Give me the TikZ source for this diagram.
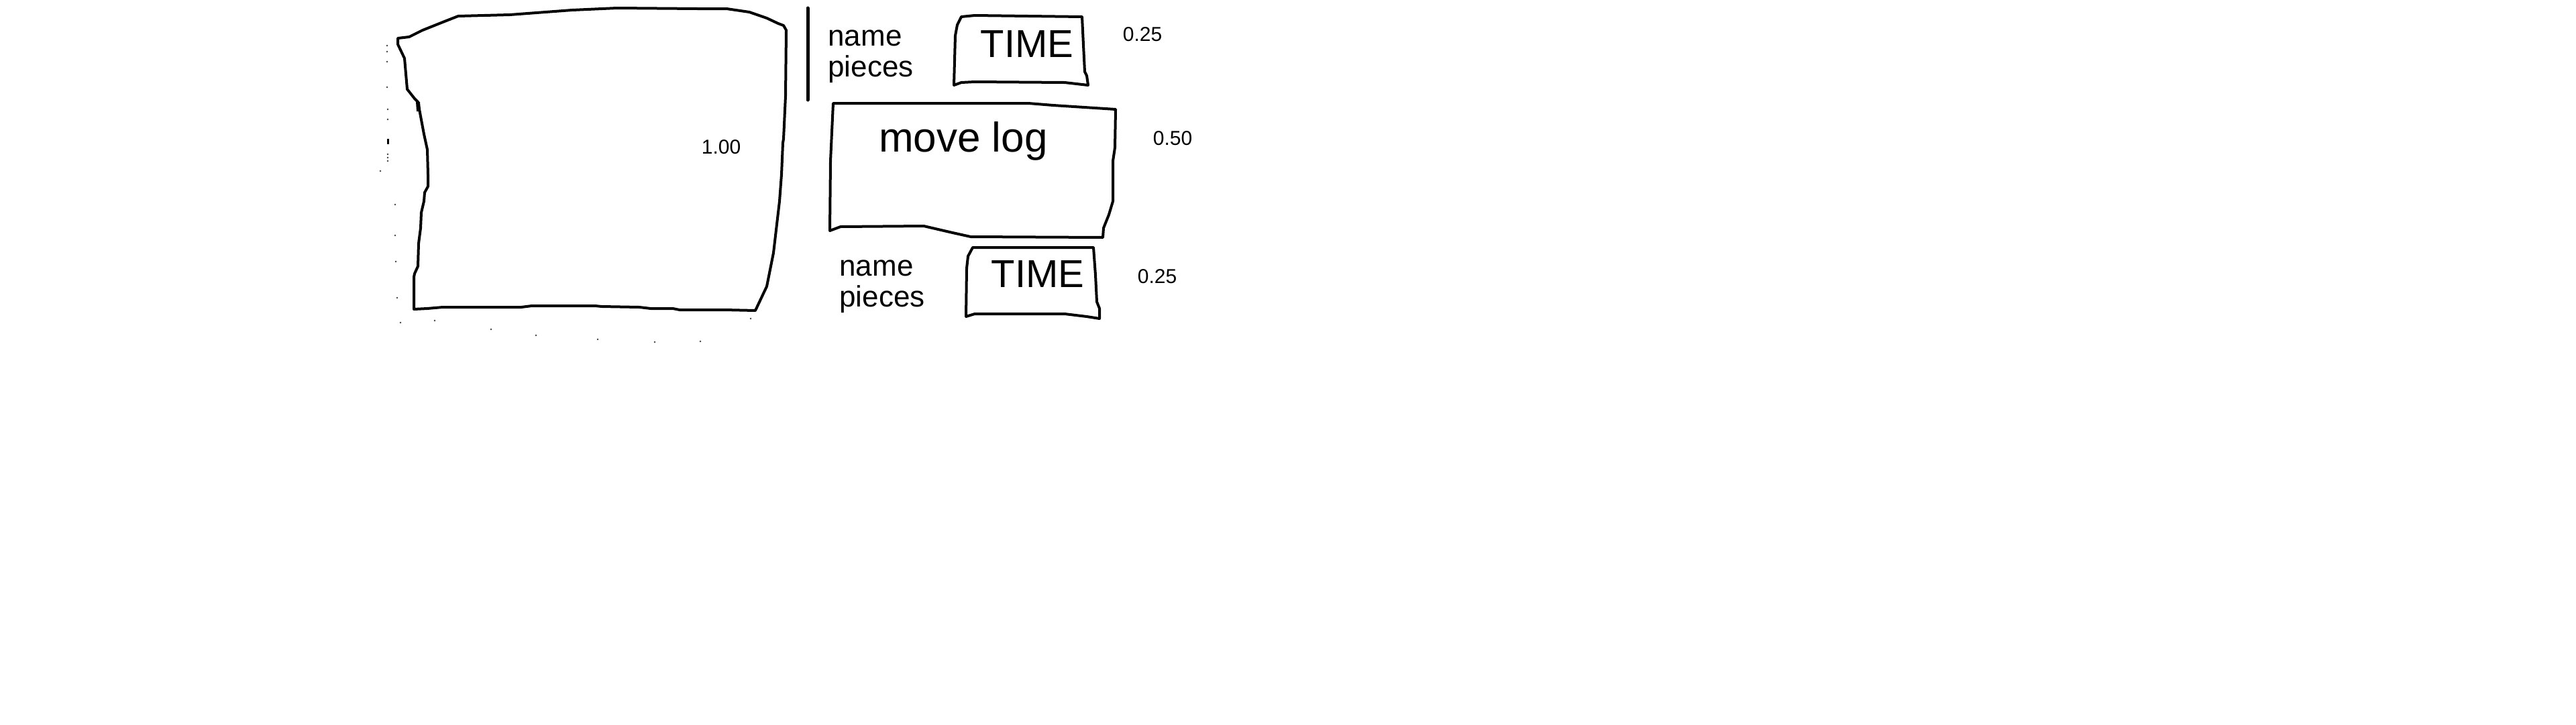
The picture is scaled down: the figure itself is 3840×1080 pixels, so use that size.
\documentclass[tikz,border=0pt]{standalone}
\usepackage{fontspec}
\setmainfont{Liberation Sans}
\begin{document}
\begin{tikzpicture}[x=1pt,y=-1pt,
  sketch/.style={draw=black,line width=4pt,line join=round,line cap=round},
  num/.style={font=\fontsize{30}{36}\selectfont,inner sep=0pt},
  hand/.style={font=\fontsize{44}{46}\selectfont,inner sep=0pt,align=left},
  bigt/.style={font=\fontsize{58}{60}\selectfont,inner sep=0pt},
  speck/.style={fill=black!75}]
\useasboundingbox (0,0) rectangle (3840,1080);
\fill[white] (0,0) rectangle (3840,1080);

% board (1.00)
\draw[sketch] (593,57) -- (610,55) -- (630,45) -- (660,33) -- (683,24) -- (760,22) -- (853,15) -- (920,12) -- (1040,13) -- (1083,13) -- (1117,18) -- (1143,27) -- (1160,35) -- (1168,38) -- (1172,45) -- (1171,143) -- (1168,207) -- (1167,213) -- (1165,260) -- (1162,300) -- (1153,377) -- (1143,427) -- (1126,463) -- (1080,462) -- (1013,462) -- (1003,460) -- (970,460) -- (953,458) -- (897,457) -- (887,456) -- (793,456) -- (777,458) -- (660,458) -- (637,460) -- (617,461) -- (617,413) -- (618,408) -- (623,397) -- (624,363) -- (627,340) -- (628,317) -- (632,300) -- (633,287) -- (638,278) -- (638,260) -- (637,223) -- (632,200) -- (623,152) -- (618,147) -- (607,133) -- (603,87) -- (593,66) -- cycle;
\draw[line width=6pt] (623,152) -- (624,166);

% specks around the board
\foreach \p in {(577,68),(577,77),(577,92),(577,130),(578,163),(578,178),(578,230),(578,235),(578,240),(567,255),(589,305),(589,351),(590,390),(592,444),(597,481),(648,478),(732,491),(799,500),(891,506),(976,510),(1044,509),(1119,475)}
  \fill[speck] \p circle (1.3);
\draw[line width=3pt] (578,207) -- (578,215);

% separator bar
\draw[line width=5pt,line cap=round] (1204,12) -- (1204,149);

% top time box
\draw[sketch] (1433,25) -- (1453,23) -- (1613,25) -- (1615,67) -- (1617,107) -- (1620,113) -- (1622,127) -- (1587,123) -- (1453,122) -- (1433,123) -- (1422,127) -- (1424,53) -- (1427,37) -- cycle;

% move log box
\draw[sketch] (1242,154) -- (1533,154) -- (1570,157) -- (1663,163) -- (1662,220) -- (1659,240) -- (1659,300) -- (1653,320) -- (1645,340) -- (1644,354) -- (1447,353) -- (1420,347) -- (1377,337) -- (1253,338) -- (1237,344) -- (1238,240) -- cycle;

% bottom time box
\draw[sketch] (1450,369) -- (1630,369) -- (1633,410) -- (1635,450) -- (1639,460) -- (1639,475) -- (1620,472) -- (1587,468) -- (1453,468) -- (1440,472) -- (1441,400) -- (1443,382) -- cycle;

% texts
\node[num] (board) at (1075,219) {1.00};
\node[num] (ntop) at (1703,51) {0.25};
\node[num] (nlog) at (1748,206) {0.50};
\node[num] (nbot) at (1725,412) {0.25};

\node[bigt] (ttop) at (1531,66) {TIME};
\node[bigt] (tbot) at (1547,409) {TIME};
\node[font=\fontsize{62}{64}\selectfont,inner sep=0pt] (log) at (1436,210) {move log};
\node[hand] (ptop) at (1298,84) {name\\pieces};
\node[hand] (pbot) at (1315,427) {name\\pieces};
\end{tikzpicture}
\end{document}
